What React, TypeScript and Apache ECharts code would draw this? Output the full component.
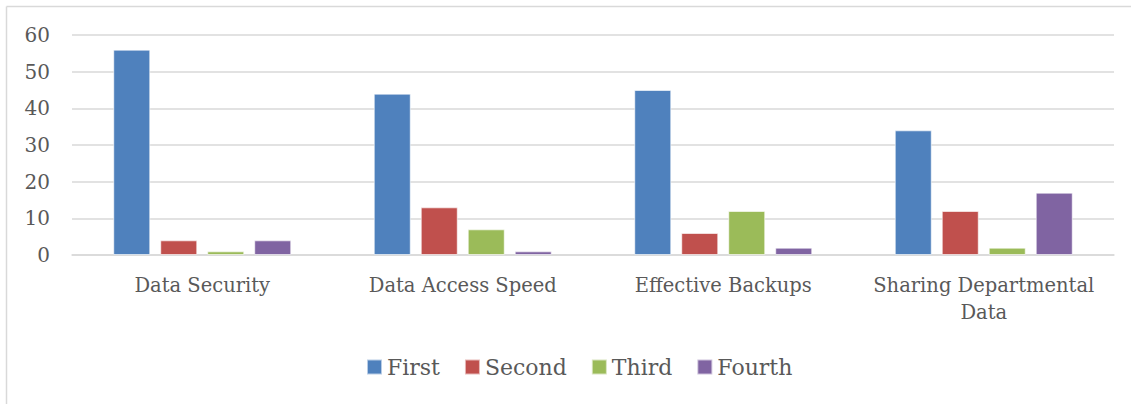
import React, { useEffect, useRef } from "react";
import * as echarts from "echarts";

const categories = ["Data Security", "Data Access Speed", "Effective Backups", "Sharing Departmental\nData"];
const seriesNames = ["First", "Second", "Third", "Fourth"];
const first = [56, 44, 45, 34];
const second = [4, 13, 6, 12];
const third = [1, 7, 12, 2];
const fourth = [4, 1, 2, 17];
const colors = ["#4f81bd", "#c0504d", "#9bbb59", "#8064a2"];

export default function App() {
  const ref = useRef<HTMLDivElement>(null);
  useEffect(() => {
    document.body.style.margin = "0";
    const chart = echarts.init(ref.current!, null, { renderer: "svg" });
    const font = "'DejaVu Serif', serif";
    const data = [first, second, third, fourth];
    chart.setOption({
      animation: false,
      textStyle: { fontFamily: font },
      grid: { left: 72, right: 17, top: 35, bottom: 149 },
      graphic: [
        { type: "line", shape: { x1: 6.5, y1: 6.5, x2: 1131, y2: 6.5 }, style: { stroke: "#d9d9d9", lineWidth: 1.5 } },
        { type: "line", shape: { x1: 6.5, y1: 6.5, x2: 6.5, y2: 404 }, style: { stroke: "#d9d9d9", lineWidth: 1.5 } },
      ],
      legend: {
        bottom: 26,
        left: 366,
        padding: 0,
        itemWidth: 15,
        itemHeight: 15,
        itemGap: 24,
        icon: "rect",
        textStyle: { fontFamily: font, fontSize: 22, color: "#595959", padding: [2, 0, 0, 0] },
        data: seriesNames,
      },
      xAxis: {
        type: "category",
        data: categories,
        axisLine: { show: true, lineStyle: { color: "#d9d9d9", width: 1.5 } },
        axisTick: { show: false },
        axisLabel: { fontFamily: font, fontSize: 19.5, color: "#595959", margin: 17, lineHeight: 27, interval: 0 },
      },
      yAxis: {
        type: "value",
        min: 0,
        max: 60,
        interval: 10,
        axisLine: { show: false },
        axisTick: { show: false },
        splitLine: { lineStyle: { color: "#d9d9d9", width: 1.5 } },
        axisLabel: { fontFamily: font, fontSize: 20, color: "#595959", margin: 22 },
      },
      series: seriesNames.map((n, i) => ({
        name: n,
        type: "bar",
        data: data[i],
        barWidth: 37,
        barGap: "27%",
        itemStyle: { color: colors[i], borderColor: "rgba(255,255,255,0.6)", borderWidth: 1 },
      })),
    });
    return () => chart.dispose();
  }, []);
  return <div ref={ref} style={{ width: 1131, height: 404 }} />;
}
